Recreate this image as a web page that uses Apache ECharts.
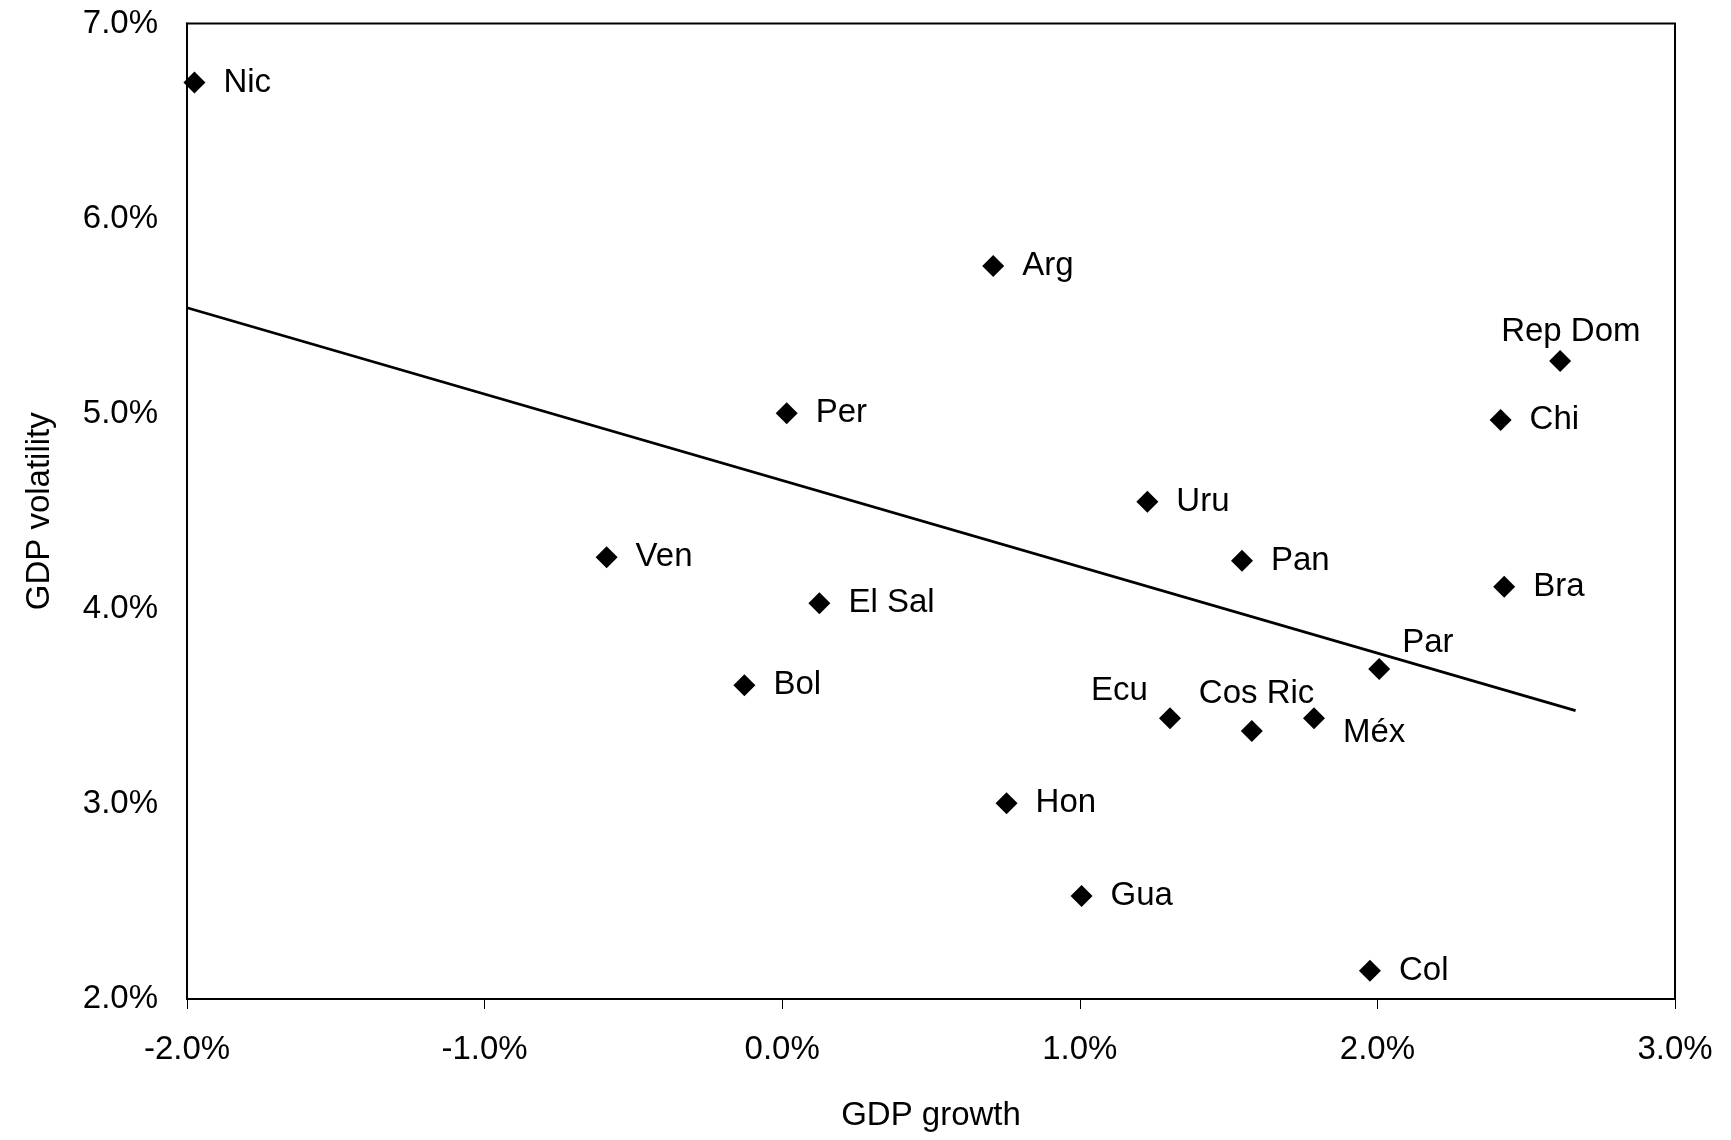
<!DOCTYPE html>
<html>
<head>
<meta charset="utf-8">
<script src="https://cdn.jsdelivr.net/npm/echarts@6/dist/echarts.min.js"></script>
<style>
html,body{margin:0;padding:0;background:#fff;}
#c{width:1731px;height:1140px;}
</style>
</head>
<body>
<div id="c"></div>
<script>
// Country codes and values (percent)
var countries = ['Nic','Arg','Rep Dom','Chi','Per','Uru','Ven','Pan','Bra','El Sal','Par','Bol','Ecu','Cos Ric','Méx','Hon','Gua','Col'];
var gdpGrowth = [-1.975, 0.709, 2.614, 2.414, 0.015, 1.227, -0.590, 1.545, 2.426, 0.125, 2.006, -0.127, 1.303, 1.578, 1.787, 0.754, 1.006, 1.975];
var gdpVolatility = [6.697, 5.757, 5.270, 4.968, 5.002, 4.549, 4.264, 4.246, 4.113, 4.028, 3.691, 3.608, 3.439, 3.374, 3.439, 3.003, 2.528, 2.145];
// Trend line endpoints
var trendX = [-2.0, 2.666];
var trendY = [5.543, 3.478];
var xTicks = ['-2.0%','-1.0%','0.0%','1.0%','2.0%','3.0%'];
var yTicks = ['2.0%','3.0%','4.0%','5.0%','6.0%','7.0%'];

var FONT = '"Liberation Sans", Arial, sans-serif';
var FS = 33;

// label placements for crowded points (offset from marker centre)
var custom = {
  'Rep Dom': [-59, -29],
  'Par': [23, -26],
  'Ecu': [-79, -27],
  'Cos Ric': [-53, -37],
  'Méx': [29, 15]
};

var pts = countries.map(function (n, i) {
  var item = { name: n, value: [gdpGrowth[i], gdpVolatility[i]] };
  if (custom[n]) {
    item.label = { position: 'inside', align: 'left', verticalAlign: 'middle', offset: custom[n] };
  }
  return item;
});

var chart = echarts.init(document.getElementById('c'));
chart.setOption({
  animation: false,
  backgroundColor: '#fff',
  textStyle: { fontFamily: FONT },
  grid: { left: 187, right: 56, top: 23.5, bottom: 141, show: true, borderColor: '#000', borderWidth: 2, backgroundColor: 'transparent' },
  xAxis: {
    type: 'value', min: -2, max: 3, interval: 1,
    name: 'GDP growth', nameLocation: 'middle', nameGap: 100,
    nameTextStyle: { color: '#000', fontSize: FS, fontFamily: FONT },
    axisLine: { show: true, onZero: false, lineStyle: { color: '#000', width: 2 } },
    axisTick: { show: true, inside: false, length: 10, lineStyle: { color: '#000', width: 1 } },
    axisLabel: { color: '#000', fontSize: FS, fontFamily: FONT, margin: 34,
      formatter: function (v) { var i = Math.round(v + 2); return xTicks[i] !== undefined ? xTicks[i] : ''; } },
    splitLine: { show: false }
  },
  yAxis: {
    type: 'value', min: 2, max: 7, interval: 1,
    name: 'GDP volatility', nameLocation: 'middle', nameGap: 131, nameRotate: 90,
    nameTextStyle: { color: '#000', fontSize: FS, fontFamily: FONT },
    axisLine: { show: true, onZero: false, lineStyle: { color: '#000', width: 2 } },
    axisTick: { show: false },
    axisLabel: { color: '#000', fontSize: FS, fontFamily: FONT, margin: 29,
      formatter: function (v) { var i = Math.round(v - 2); return yTicks[i] !== undefined ? yTicks[i] : ''; } },
    splitLine: { show: false }
  },
  series: [
    {
      type: 'line',
      data: [[trendX[0], trendY[0]], [trendX[1], trendY[1]]],
      showSymbol: false, symbol: 'none',
      lineStyle: { color: '#000', width: 2.8 },
      z: 2
    },
    {
      type: 'scatter',
      symbol: 'diamond', symbolSize: 22,
      itemStyle: { color: '#000', opacity: 1 },
      data: pts,
      label: {
        show: true, position: 'right', distance: 18,
        formatter: '{b}', color: '#000', opacity: 1, fontSize: FS, fontFamily: FONT
      },
      z: 3
    }
  ]
});
</script>
</body>
</html>
